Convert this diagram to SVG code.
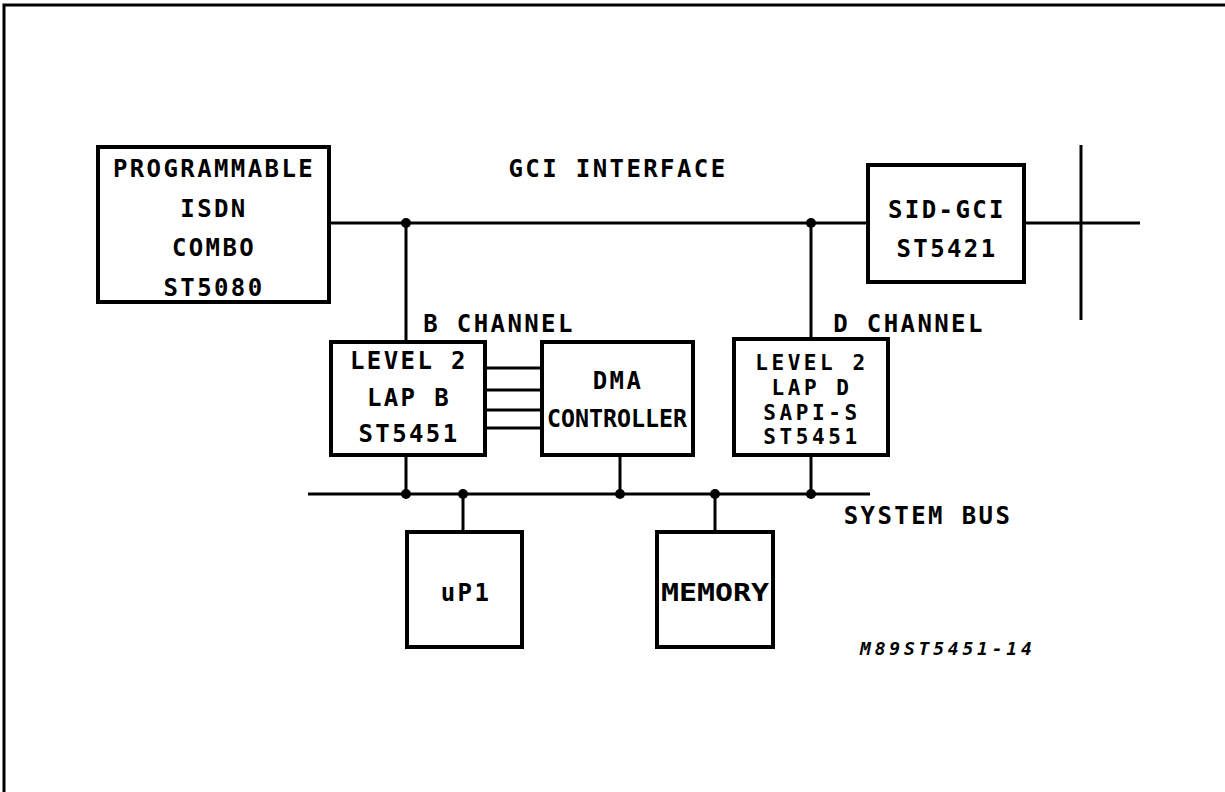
<svg xmlns="http://www.w3.org/2000/svg" width="1225" height="792" viewBox="0 0 1225 792">
<style>
.box{fill:#fff;stroke:#000;stroke-width:4}
.ln{fill:none;stroke:#000;stroke-width:3}
.t{font-family:"DejaVu Sans Mono","Liberation Mono",monospace;font-weight:bold;font-size:24px;letter-spacing:2.4px;fill:#000;text-anchor:middle}
.d{font-size:21px;letter-spacing:3.6px}
.s{font-family:"DejaVu Sans Mono","Liberation Mono",monospace;font-weight:bold;font-style:italic;font-size:18px;letter-spacing:3.8px;fill:#000}
</style>
<rect width="1225" height="792" fill="#fff"/>
<path d="M4,800 V5 H1230" fill="none" stroke="#000" stroke-width="3"/>
<g id="connectors">
<path class="ln" d="M330,223 H868"/>
<path class="ln" d="M1024,223 H1140"/>
<path class="ln" d="M1081,145 V320"/>
<path class="ln" d="M406,223 V342"/>
<path class="ln" d="M811,223 V340"/>
<path class="ln" d="M308,494 H870"/>
<path class="ln" d="M406,455 V494"/>
<path class="ln" d="M620,455 V494"/>
<path class="ln" d="M811,455 V494"/>
<path class="ln" d="M463,494 V532"/>
<path class="ln" d="M715,494 V532"/>
<path class="ln" d="M485,368 H542 M485,390 H542 M485,410 H542 M485,428 H542"/>
<g fill="#000">
<circle cx="406" cy="223" r="5"/><circle cx="811" cy="223" r="5"/>
<circle cx="406" cy="494" r="5"/><circle cx="463" cy="494" r="5"/><circle cx="620" cy="494" r="5"/><circle cx="715" cy="494" r="5"/><circle cx="811" cy="494" r="5"/>
</g>
</g>
<g id="combo">
<rect class="box" x="98" y="147" width="231" height="155"/>
<text class="t" x="214" y="177">PROGRAMMABLE</text>
<text class="t" x="214" y="217">ISDN</text>
<text class="t" x="214" y="256">COMBO</text>
<text class="t" x="214" y="296">ST5080</text>
</g>
<g id="sid">
<rect class="box" x="868" y="165" width="156" height="117"/>
<text class="t" x="947" y="218">SID-GCI</text>
<text class="t" x="947" y="257">ST5421</text>
</g>
<g id="lapb">
<rect class="box" x="331" y="342" width="154" height="113"/>
<text class="t" x="409" y="369">LEVEL 2</text>
<text class="t" x="409" y="406">LAP B</text>
<text class="t" x="409" y="442">ST5451</text>
</g>
<g id="dma">
<rect class="box" x="542" y="342" width="151" height="113"/>
<text class="t" x="618" y="389">DMA</text>
<text class="t" x="617" y="427" textLength="140" lengthAdjust="spacingAndGlyphs" style="letter-spacing:0">CONTROLLER</text>
</g>
<g id="lapd">
<rect class="box" x="734" y="339" width="154" height="116"/>
<text class="t d" x="812" y="370">LEVEL 2</text>
<text class="t d" x="812" y="395">LAP D</text>
<text class="t d" x="812" y="420">SAPI-S</text>
<text class="t d" x="812" y="444">ST5451</text>
</g>
<g id="up1">
<rect class="box" x="407" y="532" width="115" height="115"/>
<text class="t" x="466" y="601">uP1</text>
</g>
<g id="memory">
<rect class="box" x="657" y="532" width="116" height="115"/>
<text class="t" x="715" y="601" textLength="108" lengthAdjust="spacingAndGlyphs" style="letter-spacing:0">MEMORY</text>
</g>
<g id="labels">
<text class="t" x="618" y="177">GCI INTERFACE</text>
<text class="t" x="499" y="332">B CHANNEL</text>
<text class="t" x="909" y="332">D CHANNEL</text>
<text class="t" x="928" y="524">SYSTEM BUS</text>
<text class="s" x="860" y="655">M89ST5451-14</text>
</g>
</svg>
